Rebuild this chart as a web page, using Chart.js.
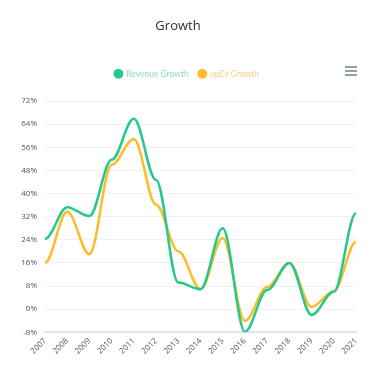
<!DOCTYPE html>
<html>
<head>
    <title>Growth</title>
    <style>
        body { margin: 0; background: #fff; }
        #wrap { width: 380px; height: 376px; }
    </style>
</head>
<body>
<div id="wrap">
    <canvas id="myChart" width="380" height="376"></canvas>
</div>
<script src="https://cdn.jsdelivr.net/npm/chart.js"></script>
<script>
    // data
    const years = ['2007', '2008', '2009', '2010', '2011', '2012', '2013', '2014',
                   '2015', '2016', '2017', '2018', '2019', '2020', '2021'];
    const revenueGrowth = [24.4, 35.3, 32.2, 51.7, 65.9, 44.7, 9.2, 6.9, 28, -7.8, 6.6, 16, -2, 6, 33.2];
    const opexGrowth = [16.1, 33.7, 19, 50, 58.9, 36.1, 20, 6.9, 24.6, -4.1, 7.7, 16, 0.8, 6.2, 23.2];

    const green = '#24c98b';
    const orange = '#fdbc2c';

    // little menu icon top right
    const menuIcon = {
        id: 'menuIcon',
        afterDraw(chart) {
            const ctx = chart.ctx;
            ctx.save();
            ctx.strokeStyle = '#6e8192';
            ctx.lineWidth = 1.5;
            for (let i = 0; i < 3; i++) {
                ctx.beginPath();
                ctx.moveTo(345, 67 + i * 4);
                ctx.lineTo(357, 67 + i * 4);
                ctx.stroke();
            }
            ctx.restore();
        }
    };

    // extra room under the legend, and nudge it a bit right
    const legendGap = {
        id: 'legendGap',
        beforeInit(chart) {
            const fit = chart.legend.fit;
            chart.legend.fit = function () {
                fit.bind(chart.legend)();
                this.height += 13;
            };
        },
        afterLayout(chart) {
            chart.legend.left += 9;
            chart.legend.right += 9;
        }
    };

    // smooth curve with flat tangents at every point
    const flatSpline = {
        id: 'flatSpline',
        beforeDatasetsDraw(chart) {
            chart.data.datasets.forEach((ds, i) => {
                const meta = chart.getDatasetMeta(i);
                meta.dataset.updateControlPoints(chart.chartArea, 'x');
                const pts = meta.data;
                for (let j = 0; j < pts.length; j++) {
                    const p = pts[j];
                    const prev = pts[j - 1] || p;
                    const next = pts[j + 1] || p;
                    p.cp1x = p.x - (p.x - prev.x) * 0.35;
                    p.cp1y = p.y;
                    p.cp2x = p.x + (next.x - p.x) * 0.35;
                    p.cp2y = p.y;
                }
            });
        }
    };

    const chartConfig = {
        type: 'line',
        data: {
            labels: years,
            datasets: [{
                label: 'Revenue Growth',
                data: revenueGrowth,
                borderColor: green,
                backgroundColor: green,
                borderWidth: 2.5,
                pointRadius: 0,
                tension: 0.3
            }, {
                label: 'opEx Growth',
                data: opexGrowth,
                borderColor: orange,
                backgroundColor: orange,
                borderWidth: 2.5,
                pointRadius: 0,
                tension: 0.3
            }]
        },
        options: {
            responsive: false,
            animation: false,
            layout: {
                padding: { left: 0, right: 24, top: 0, bottom: 16 }
            },
            plugins: {
                title: {
                    display: true,
                    text: 'Growth',
                    color: '#263238',
                    font: { family: 'Open Sans', size: 13, weight: 'normal' },
                    padding: { top: 18, bottom: 26 }
                },
                legend: {
                    labels: {
                        usePointStyle: true,
                        pointStyle: 'circle',
                        boxWidth: 7,
                        boxHeight: 7,
                        padding: 10,
                        font: { family: 'Lato', size: 8.5 },
                        generateLabels(chart) {
                            return chart.data.datasets.map((ds, i) => ({
                                text: ds.label,
                                fillStyle: ds.borderColor,
                                strokeStyle: ds.borderColor,
                                lineWidth: 0,
                                pointStyle: 'circle',
                                fontColor: i === 0 ? '#8fdcbb' : '#fdcf8a',
                                datasetIndex: i
                            }));
                        }
                    }
                },
                tooltip: { enabled: false }
            },
            scales: {
                x: {
                    offset: false,
                    grid: { display: false, drawTicks: false },
                    border: { display: true, color: '#e3e3e3', width: 2 },
                    ticks: {
                        minRotation: 45,
                        maxRotation: 45,
                        autoSkip: false,
                        color: '#555',
                        font: { family: 'Open Sans', size: 8 },
                        padding: 4
                    }
                },
                y: {
                    min: -8,
                    max: 72,
                    afterFit(scale) { scale.width = 45; },
                    grid: { color: '#f1f1f1', drawTicks: false },
                    border: { display: false },
                    ticks: {
                        stepSize: 8,
                        color: '#555',
                        padding: 8,
                        font: { family: 'Open Sans', size: 8 },
                        callback: v => v + '%'
                    }
                }
            }
        },
        plugins: [menuIcon, legendGap, flatSpline]
    };

    const canvas = document.getElementById('myChart');
    const chart = new Chart(canvas, chartConfig);
</script>
</body>
</html>
